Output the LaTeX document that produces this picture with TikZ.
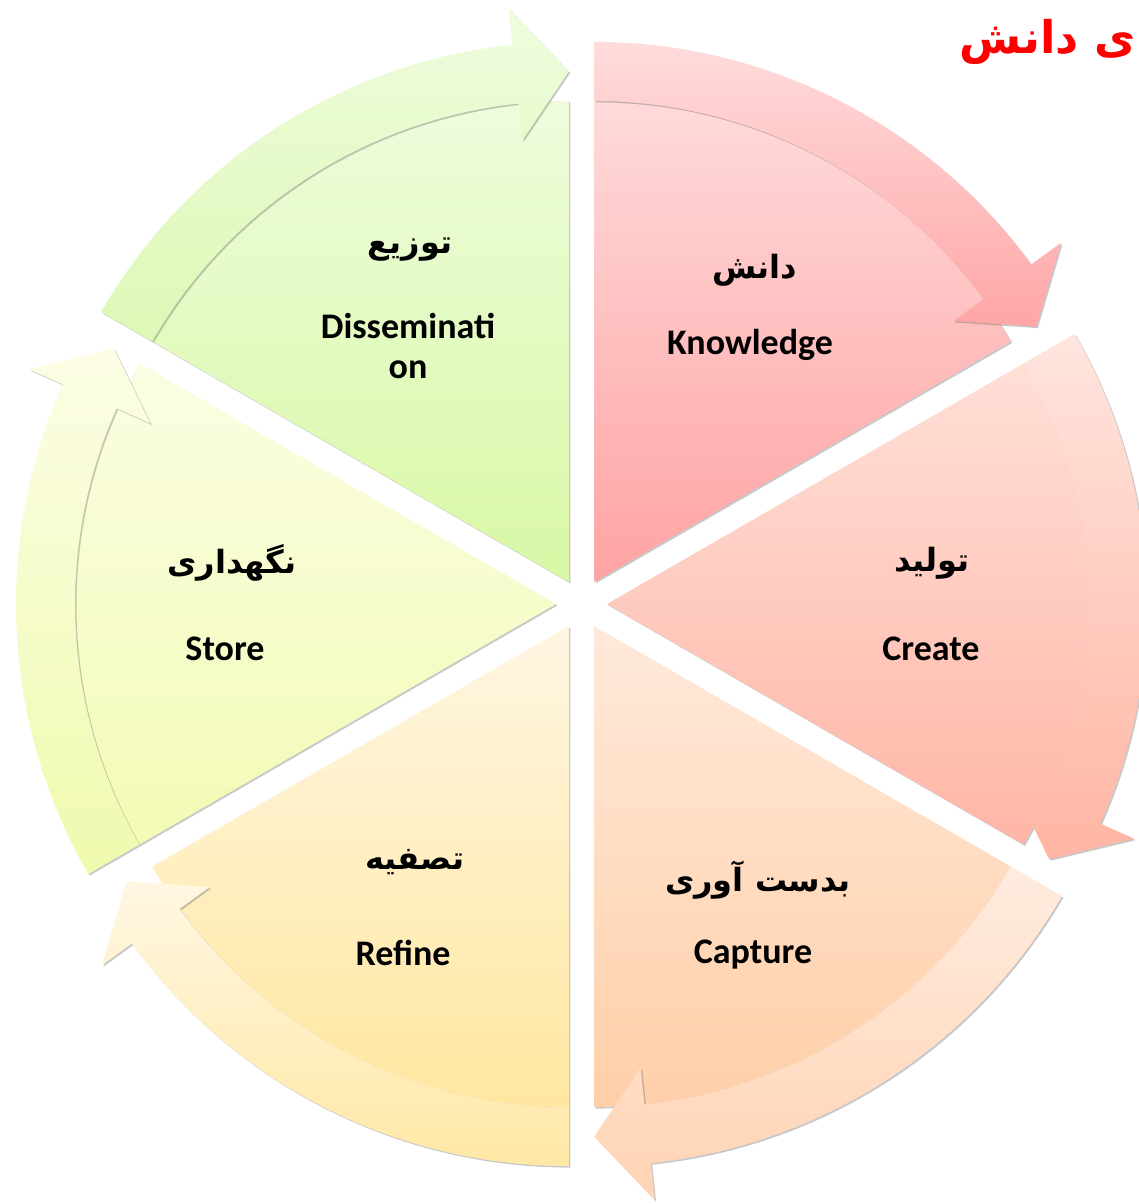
\documentclass[tikz,border=0pt]{standalone}
\usepackage{fontspec}
\setmainfont{Carlito}
\newfontfamily\fa[Script=Arabic]{DejaVu Sans}
\TeXXeTstate=1
\usetikzlibrary{shadows}
\definecolor{kwT}{HTML}{FFDADA}\definecolor{kwB}{HTML}{FFA3A3}
\definecolor{kbT}{HTML}{FFDCDC}\definecolor{kbB}{HTML}{FFA6A6}
\definecolor{crT}{HTML}{FFDFD7}\definecolor{crB}{HTML}{FFB6A6}
\definecolor{cbT}{HTML}{FFE5DE}\definecolor{cbB}{HTML}{FFB5A3}
\definecolor{caT}{HTML}{FFE9DA}\definecolor{caB}{HTML}{FFCFA8}
\definecolor{abT}{HTML}{FFECE0}\definecolor{abB}{HTML}{FFD3B2}
\definecolor{reT}{HTML}{FFF6E2}\definecolor{reB}{HTML}{FFE7A0}
\definecolor{rbT}{HTML}{FFF7E3}\definecolor{rbB}{HTML}{FFE8A5}
\definecolor{stT}{HTML}{FBFDE3}\definecolor{stB}{HTML}{F3FBB5}
\definecolor{sbT}{HTML}{FCFDE5}\definecolor{sbB}{HTML}{F0FAAE}
\definecolor{diT}{HTML}{EEFCDC}\definecolor{diB}{HTML}{D8F8A5}
\definecolor{dbT}{HTML}{EFFCDE}\definecolor{dbB}{HTML}{DDF8B5}
\tikzset{
  segshadow/.style={drop shadow={shadow xshift=1.5pt, shadow yshift=-1.5pt, opacity=0.3, fill=black!70}},
  lat/.style={font=\fontsize{36}{42}\selectfont\bfseries, align=center, inner sep=0pt},
  fat/.style={font=\fontsize{32}{38}\selectfont\fa\bfseries, inner sep=0pt},
}
\newcommand\cycseg[5]{%
  \pgfmathsetmacro\sA{#1+30}%
  \pgfmathsetmacro\eA{#1-30}%
  \pgfmathsetmacro\hA{#1-24}%
  \begin{scope}[shift={(C)}, shift={(#1:25.5)}]
    \path[segshadow, top color=#2, bottom color=#3]
      (0,0) -- (\sA:481) arc[start angle=\sA, end angle=\eA, radius=481] -- cycle;
    \path[segshadow, top color=#4, bottom color=#5]
      (\sA:481) arc[start angle=\sA, end angle=\hA, radius=481]
      -- (\hA:444) -- (\eA:510.5) -- (\hA:577) -- (\hA:540)
      arc[start angle=\hA, end angle=\sA, radius=540] -- cycle;
  \end{scope}}
\begin{document}
\begin{tikzpicture}[x=1pt, y=1pt]
  \fill[white] (0,0) rectangle (1139,1204);
  \path[use as bounding box] (0,0) rectangle (1139,1204);
  \coordinate (C) at (581.5,600);
  \cycseg{60}{kwT}{kwB}{kbT}{kbB}
  \cycseg{0}{crT}{crB}{cbT}{cbB}
  \cycseg{-60}{caT}{caB}{abT}{abB}
  \cycseg{-120}{reT}{reB}{rbT}{rbB}
  \cycseg{180}{stT}{stB}{sbT}{sbB}
  \cycseg{120}{diT}{diB}{dbT}{dbB}
  % labels
  \node[fat] (knfa) at (755,934) {\beginR دانش\endR};
  \node[lat] (knen) at (750,859) {Knowledge};
  \node[fat] (crfa) at (932,641) {\beginR تولید\endR};
  \node[lat] (cren) at (931,555) {Create};
  \node[fat] (cafa) at (758,324) {\beginR بدست آوری\endR};
  \node[lat] (caen) at (753,249) {Capture};
  \node[fat] (refa) at (415,342) {\beginR تصفیه\endR};
  \node[lat] (reen) at (403,251) {Refine};
  \node[fat] (stfa) at (232,641) {\beginR نگهداری\endR};
  \node[lat] (sten) at (225,555) {Store};
  \node[fat] (difa) at (410,954) {\beginR توزیع\endR};
  \node[lat, font=\fontsize{36}{40}\selectfont\bfseries] (dien) at (408,858) {Disseminati\\on};
  \node[inner sep=0pt, anchor=east, text=red, font=\fontsize{45}{50}\selectfont\fa\bfseries] (title) at (1136,1162) {\beginR ی دانش\endR};
\end{tikzpicture}
\end{document}
